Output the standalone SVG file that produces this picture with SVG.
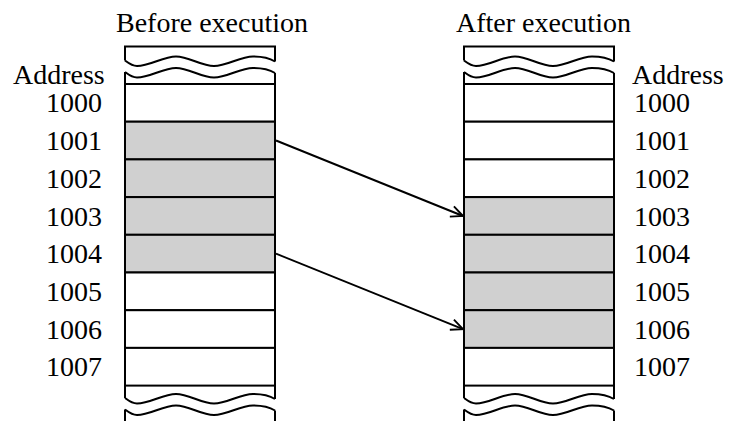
<svg xmlns="http://www.w3.org/2000/svg" xmlns:xlink="http://www.w3.org/1999/xlink" width="729" height="421" viewBox="0 0 729 421">
  <style>
    .lbl { font-family: "Liberation Serif", "Times New Roman", serif; font-size: 28px; fill: #000; }
    .edge { fill: none; stroke: #000; stroke-width: 2; }
    .cell { fill: #fff; stroke: #000; stroke-width: 2; }
    .cell.used { fill: #d0d0d0; }
    .link { fill: none; stroke: #000; stroke-width: 1.9; marker-end: url(#head); }
  </style>
  <defs>
    <!-- break line (torn edge) across a 150px wide column -->
    <path id="wave" class="edge" d="M0,0 c4,3 7,5.5 12,5.5 c13,0 26,-9.5 39,-9.5 c13,0 25,9.5 38,9.5 c13,0 26,-9.5 39,-9.5 c10,0 17,2 22,5"/>
    <marker id="head" markerUnits="userSpaceOnUse" markerWidth="16" markerHeight="16" viewBox="-14 -8 16 16" refX="0" refY="0" orient="auto">
      <path d="M-12,-5.5 L0,0 L-12,5.5" fill="none" stroke="#000" stroke-width="1.9"/>
    </marker>
    <!-- one memory strip with its break pieces, drawn at x=0 -->
    <g id="strip">
      <path class="edge" d="M0,60.5 V46.5 H150 V61.5"/>
      <use xlink:href="#wave" x="0" y="60.5"/>
      <use xlink:href="#wave" x="0" y="72"/>
      <path class="edge" d="M0,72 V398 M150,73 V399"/>
      <use xlink:href="#wave" x="0" y="398"/>
      <use xlink:href="#wave" x="0" y="409.5"/>
      <path class="edge" d="M0,409.5 V422 M150,410.5 V422"/>
    </g>
  </defs>

  <!-- memory before execution -->
  <g id="memory-before">
    <text class="lbl" x="116" y="32">Before execution</text>
    <use xlink:href="#strip" x="125" y="0"/>
    <g id="before-1000"><rect class="cell" x="125" y="84" width="150" height="37.7"/><text class="lbl" x="46" y="112.4">1000</text></g>
    <g id="before-1001"><rect class="cell used" x="125" y="121.7" width="150" height="37.7"/><text class="lbl" x="46" y="150.1">1001</text></g>
    <g id="before-1002"><rect class="cell used" x="125" y="159.4" width="150" height="37.7"/><text class="lbl" x="46" y="187.8">1002</text></g>
    <g id="before-1003"><rect class="cell used" x="125" y="197.1" width="150" height="37.7"/><text class="lbl" x="46" y="225.5">1003</text></g>
    <g id="before-1004"><rect class="cell used" x="125" y="234.8" width="150" height="37.7"/><text class="lbl" x="46" y="263.2">1004</text></g>
    <g id="before-1005"><rect class="cell" x="125" y="272.5" width="150" height="37.7"/><text class="lbl" x="46" y="300.9">1005</text></g>
    <g id="before-1006"><rect class="cell" x="125" y="310.2" width="150" height="37.7"/><text class="lbl" x="46" y="338.6">1006</text></g>
    <g id="before-1007"><rect class="cell" x="125" y="347.9" width="150" height="37.7"/><text class="lbl" x="46" y="376.3">1007</text></g>
    <text class="lbl" x="13" y="84">Address</text>
  </g>

  <!-- memory after execution -->
  <g id="memory-after">
    <text class="lbl" x="456" y="32">After execution</text>
    <use xlink:href="#strip" x="464" y="0"/>
    <g id="after-1000"><rect class="cell" x="464" y="84" width="150" height="37.7"/><text class="lbl" x="634" y="112.4">1000</text></g>
    <g id="after-1001"><rect class="cell" x="464" y="121.7" width="150" height="37.7"/><text class="lbl" x="634" y="150.1">1001</text></g>
    <g id="after-1002"><rect class="cell" x="464" y="159.4" width="150" height="37.7"/><text class="lbl" x="634" y="187.8">1002</text></g>
    <g id="after-1003"><rect class="cell used" x="464" y="197.1" width="150" height="37.7"/><text class="lbl" x="634" y="225.5">1003</text></g>
    <g id="after-1004"><rect class="cell used" x="464" y="234.8" width="150" height="37.7"/><text class="lbl" x="634" y="263.2">1004</text></g>
    <g id="after-1005"><rect class="cell used" x="464" y="272.5" width="150" height="37.7"/><text class="lbl" x="634" y="300.9">1005</text></g>
    <g id="after-1006"><rect class="cell used" x="464" y="310.2" width="150" height="37.7"/><text class="lbl" x="634" y="338.6">1006</text></g>
    <g id="after-1007"><rect class="cell" x="464" y="347.9" width="150" height="37.7"/><text class="lbl" x="634" y="376.3">1007</text></g>
    <text class="lbl" x="632" y="84">Address</text>
  </g>

  <!-- block moves -->
  <g id="connectors">
    <line class="link" x1="276" y1="140.5" x2="463" y2="216"/>
    <line class="link" x1="276" y1="253.7" x2="463" y2="329.2"/>
  </g>
</svg>
